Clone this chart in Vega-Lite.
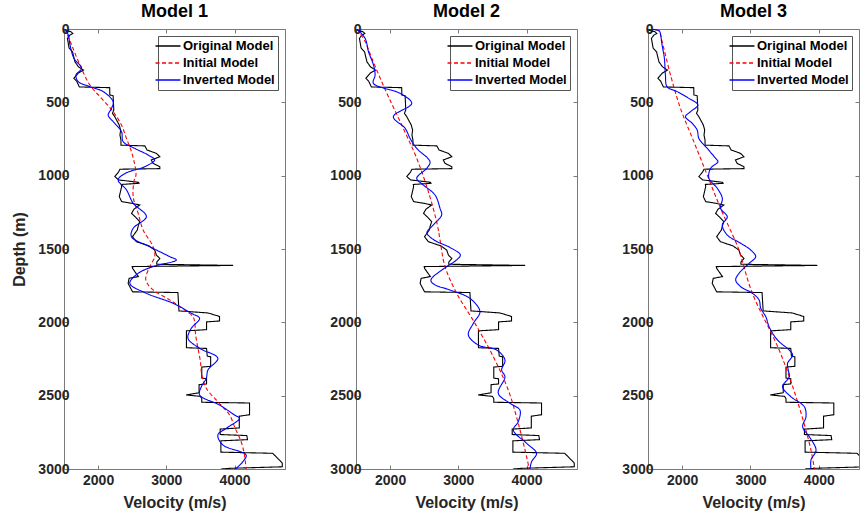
{
  "$schema": "https://vega.github.io/schema/vega-lite/v6.json",
  "padding": {"left": 11, "top": 2, "right": 0, "bottom": 0},
  "background": "white",
  "datasets": {
    "orig": [
      {"series":"Original Model","depth":0,"v":1510},{"series":"Original Model","depth":10,"v":1520},{"series":"Original Model","depth":18,"v":1600},{"series":"Original Model","depth":30,"v":1630},{"series":"Original Model","depth":40,"v":1590},{"series":"Original Model","depth":64,"v":1550},{"series":"Original Model","depth":130,"v":1575},{"series":"Original Model","depth":155,"v":1625},{"series":"Original Model","depth":223,"v":1660},{"series":"Original Model","depth":257,"v":1710},{"series":"Original Model","depth":280,"v":1785},{"series":"Original Model","depth":300,"v":1710},{"series":"Original Model","depth":336,"v":1645},{"series":"Original Model","depth":355,"v":1685},{"series":"Original Model","depth":395,"v":1725},{"series":"Original Model","depth":400,"v":2170},{"series":"Original Model","depth":450,"v":2172},{"series":"Original Model","depth":455,"v":2220},{"series":"Original Model","depth":552,"v":2230},{"series":"Original Model","depth":575,"v":2210},{"series":"Original Model","depth":598,"v":2245},{"series":"Original Model","depth":620,"v":2270},{"series":"Original Model","depth":655,"v":2310},{"series":"Original Model","depth":689,"v":2330},{"series":"Original Model","depth":723,"v":2320},{"series":"Original Model","depth":757,"v":2335},{"series":"Original Model","depth":792,"v":2335},{"series":"Original Model","depth":797,"v":2685},{"series":"Original Model","depth":825,"v":2718},{"series":"Original Model","depth":848,"v":2855},{"series":"Original Model","depth":871,"v":2905},{"series":"Original Model","depth":893,"v":2780},{"series":"Original Model","depth":916,"v":2805},{"series":"Original Model","depth":939,"v":2905},{"series":"Original Model","depth":952,"v":2905},{"series":"Original Model","depth":956,"v":2320},{"series":"Original Model","depth":975,"v":2300},{"series":"Original Model","depth":1006,"v":2245},{"series":"Original Model","depth":1029,"v":2300},{"series":"Original Model","depth":1045,"v":2590},{"series":"Original Model","depth":1052,"v":2600},{"series":"Original Model","depth":1060,"v":2340},{"series":"Original Model","depth":1075,"v":2345},{"series":"Original Model","depth":1143,"v":2310},{"series":"Original Model","depth":1177,"v":2345},{"series":"Original Model","depth":1188,"v":2490},{"series":"Original Model","depth":1200,"v":2610},{"series":"Original Model","depth":1229,"v":2525},{"series":"Original Model","depth":1257,"v":2490},{"series":"Original Model","depth":1279,"v":2540},{"series":"Original Model","depth":1313,"v":2610},{"series":"Original Model","depth":1340,"v":2590},{"series":"Original Model","depth":1370,"v":2575},{"series":"Original Model","depth":1416,"v":2505},{"series":"Original Model","depth":1450,"v":2560},{"series":"Original Model","depth":1479,"v":2745},{"series":"Original Model","depth":1507,"v":2830},{"series":"Original Model","depth":1541,"v":2855},{"series":"Original Model","depth":1565,"v":2905},{"series":"Original Model","depth":1590,"v":2860},{"series":"Original Model","depth":1604,"v":2860},{"series":"Original Model","depth":1612,"v":3980},{"series":"Original Model","depth":1620,"v":2500},{"series":"Original Model","depth":1632,"v":2505},{"series":"Original Model","depth":1688,"v":2590},{"series":"Original Model","depth":1700,"v":2455},{"series":"Original Model","depth":1734,"v":2440},{"series":"Original Model","depth":1792,"v":2505},{"series":"Original Model","depth":1797,"v":3170},{"series":"Original Model","depth":1916,"v":3185},{"series":"Original Model","depth":1922,"v":3185},{"series":"Original Model","depth":1936,"v":3610},{"series":"Original Model","depth":1960,"v":3780},{"series":"Original Model","depth":1991,"v":3780},{"series":"Original Model","depth":1997,"v":3590},{"series":"Original Model","depth":2050,"v":3590},{"series":"Original Model","depth":2058,"v":3295},{"series":"Original Model","depth":2173,"v":3295},{"series":"Original Model","depth":2178,"v":3590},{"series":"Original Model","depth":2230,"v":3600},{"series":"Original Model","depth":2235,"v":3650},{"series":"Original Model","depth":2300,"v":3650},{"series":"Original Model","depth":2305,"v":3520},{"series":"Original Model","depth":2380,"v":3520},{"series":"Original Model","depth":2385,"v":3590},{"series":"Original Model","depth":2420,"v":3590},{"series":"Original Model","depth":2425,"v":3480},{"series":"Original Model","depth":2480,"v":3480},{"series":"Original Model","depth":2495,"v":3290},{"series":"Original Model","depth":2505,"v":3500},{"series":"Original Model","depth":2520,"v":3520},{"series":"Original Model","depth":2545,"v":3520},{"series":"Original Model","depth":2550,"v":4220},{"series":"Original Model","depth":2630,"v":4220},{"series":"Original Model","depth":2640,"v":4070},{"series":"Original Model","depth":2720,"v":4070},{"series":"Original Model","depth":2728,"v":3790},{"series":"Original Model","depth":2765,"v":3790},{"series":"Original Model","depth":2772,"v":4180},{"series":"Original Model","depth":2800,"v":4190},{"series":"Original Model","depth":2808,"v":3800},{"series":"Original Model","depth":2885,"v":3800},{"series":"Original Model","depth":2893,"v":4560},{"series":"Original Model","depth":2940,"v":4660},{"series":"Original Model","depth":2960,"v":4700},{"series":"Original Model","depth":2985,"v":4700},{"series":"Original Model","depth":2995,"v":3950},{"series":"Original Model","depth":3000,"v":3800}
    ],
    "m1": [
      {"series":"Initial Model","depth":0,"v":1515},{"series":"Initial Model","depth":109,"v":1612},{"series":"Initial Model","depth":245,"v":1734},{"series":"Initial Model","depth":382,"v":1880},{"series":"Initial Model","depth":473,"v":2050},{"series":"Initial Model","depth":564,"v":2221},{"series":"Initial Model","depth":655,"v":2343},{"series":"Initial Model","depth":746,"v":2416},{"series":"Initial Model","depth":837,"v":2489},{"series":"Initial Model","depth":927,"v":2538},{"series":"Initial Model","depth":996,"v":2555},{"series":"Initial Model","depth":1029,"v":2530},{"series":"Initial Model","depth":1143,"v":2514},{"series":"Initial Model","depth":1257,"v":2587},{"series":"Initial Model","depth":1370,"v":2660},{"series":"Initial Model","depth":1484,"v":2806},{"series":"Initial Model","depth":1552,"v":2830},{"series":"Initial Model","depth":1620,"v":2757},{"series":"Initial Model","depth":1711,"v":2699},{"series":"Initial Model","depth":1779,"v":2806},{"series":"Initial Model","depth":1847,"v":3050},{"series":"Initial Model","depth":1916,"v":3269},{"series":"Initial Model","depth":1961,"v":3391},{"series":"Initial Model","depth":1995,"v":3415},{"series":"Initial Model","depth":2086,"v":3430},{"series":"Initial Model","depth":2177,"v":3464},{"series":"Initial Model","depth":2268,"v":3500},{"series":"Initial Model","depth":2359,"v":3520},{"series":"Initial Model","depth":2450,"v":3586},{"series":"Initial Model","depth":2541,"v":3756},{"series":"Initial Model","depth":2632,"v":3927},{"series":"Initial Model","depth":2723,"v":4010},{"series":"Initial Model","depth":2814,"v":4097},{"series":"Initial Model","depth":2905,"v":4146},{"series":"Initial Model","depth":3000,"v":4170},
      {"series":"Inverted Model","depth":0,"v":1515},{"series":"Inverted Model","depth":41,"v":1563},{"series":"Inverted Model","depth":109,"v":1588},{"series":"Inverted Model","depth":200,"v":1646},{"series":"Inverted Model","depth":268,"v":1758},{"series":"Inverted Model","depth":314,"v":1675},{"series":"Inverted Model","depth":359,"v":1710},{"series":"Inverted Model","depth":393,"v":1880},{"series":"Inverted Model","depth":427,"v":2075},{"series":"Inverted Model","depth":496,"v":2221},{"series":"Inverted Model","depth":541,"v":2197},{"series":"Inverted Model","depth":587,"v":2148},{"series":"Inverted Model","depth":632,"v":2221},{"series":"Inverted Model","depth":700,"v":2343},{"series":"Inverted Model","depth":768,"v":2367},{"series":"Inverted Model","depth":814,"v":2538},{"series":"Inverted Model","depth":859,"v":2733},{"series":"Inverted Model","depth":893,"v":2830},{"series":"Inverted Model","depth":939,"v":2684},{"series":"Inverted Model","depth":984,"v":2400},{"series":"Inverted Model","depth":1029,"v":2294},{"series":"Inverted Model","depth":1097,"v":2416},{"series":"Inverted Model","depth":1188,"v":2514},{"series":"Inverted Model","depth":1279,"v":2708},{"series":"Inverted Model","depth":1359,"v":2514},{"series":"Inverted Model","depth":1416,"v":2489},{"series":"Inverted Model","depth":1484,"v":2757},{"series":"Inverted Model","depth":1552,"v":3050},{"series":"Inverted Model","depth":1575,"v":3147},{"series":"Inverted Model","depth":1620,"v":2806},{"series":"Inverted Model","depth":1666,"v":2587},{"series":"Inverted Model","depth":1734,"v":2465},{"series":"Inverted Model","depth":1802,"v":2708},{"series":"Inverted Model","depth":1870,"v":3098},{"series":"Inverted Model","depth":1938,"v":3366},{"series":"Inverted Model","depth":1973,"v":3488},{"series":"Inverted Model","depth":2041,"v":3366},{"series":"Inverted Model","depth":2109,"v":3318},{"series":"Inverted Model","depth":2177,"v":3488},{"series":"Inverted Model","depth":2245,"v":3756},{"series":"Inverted Model","depth":2325,"v":3610},{"series":"Inverted Model","depth":2382,"v":3586},{"series":"Inverted Model","depth":2439,"v":3513},{"series":"Inverted Model","depth":2495,"v":3488},{"series":"Inverted Model","depth":2564,"v":3781},{"series":"Inverted Model","depth":2632,"v":4000},{"series":"Inverted Model","depth":2655,"v":4073},{"series":"Inverted Model","depth":2723,"v":3878},{"series":"Inverted Model","depth":2768,"v":3756},{"series":"Inverted Model","depth":2836,"v":3829},{"series":"Inverted Model","depth":2905,"v":4170},{"series":"Inverted Model","depth":2950,"v":4122},{"series":"Inverted Model","depth":3000,"v":4014}
    ],
    "m2": [
      {"series":"Initial Model","depth":0,"v":1512},{"series":"Initial Model","depth":86,"v":1634},{"series":"Initial Model","depth":200,"v":1732},{"series":"Initial Model","depth":427,"v":1941},{"series":"Initial Model","depth":655,"v":2171},{"series":"Initial Model","depth":882,"v":2390},{"series":"Initial Model","depth":1109,"v":2561},{"series":"Initial Model","depth":1336,"v":2693},{"series":"Initial Model","depth":1439,"v":2732},{"series":"Initial Model","depth":1620,"v":2805},{"series":"Initial Model","depth":1802,"v":2976},{"series":"Initial Model","depth":2007,"v":3244},{"series":"Initial Model","depth":2234,"v":3513},{"series":"Initial Model","depth":2461,"v":3732},{"series":"Initial Model","depth":2689,"v":3879},{"series":"Initial Model","depth":2916,"v":4001},{"series":"Initial Model","depth":3000,"v":4040},
      {"series":"Inverted Model","depth":0,"v":1512},{"series":"Inverted Model","depth":64,"v":1634},{"series":"Inverted Model","depth":155,"v":1683},{"series":"Inverted Model","depth":245,"v":1756},{"series":"Inverted Model","depth":314,"v":1780},{"series":"Inverted Model","depth":370,"v":1755},{"series":"Inverted Model","depth":439,"v":2146},{"series":"Inverted Model","depth":507,"v":2317},{"series":"Inverted Model","depth":598,"v":2048},{"series":"Inverted Model","depth":677,"v":2220},{"series":"Inverted Model","depth":746,"v":2293},{"series":"Inverted Model","depth":814,"v":2390},{"series":"Inverted Model","depth":905,"v":2585},{"series":"Inverted Model","depth":950,"v":2537},{"series":"Inverted Model","depth":1018,"v":2390},{"series":"Inverted Model","depth":1064,"v":2488},{"series":"Inverted Model","depth":1132,"v":2659},{"series":"Inverted Model","depth":1223,"v":2732},{"series":"Inverted Model","depth":1268,"v":2756},{"series":"Inverted Model","depth":1336,"v":2634},{"series":"Inverted Model","depth":1390,"v":2540},{"series":"Inverted Model","depth":1440,"v":2650},{"series":"Inverted Model","depth":1490,"v":2880},{"series":"Inverted Model","depth":1541,"v":3030},{"series":"Inverted Model","depth":1580,"v":2960},{"series":"Inverted Model","depth":1620,"v":2830},{"series":"Inverted Model","depth":1700,"v":2610},{"series":"Inverted Model","depth":1720,"v":2600},{"series":"Inverted Model","depth":1745,"v":2660},{"series":"Inverted Model","depth":1780,"v":2880},{"series":"Inverted Model","depth":1837,"v":3170},{"series":"Inverted Model","depth":1927,"v":3317},{"series":"Inverted Model","depth":2007,"v":3220},{"series":"Inverted Model","depth":2086,"v":3147},{"series":"Inverted Model","depth":2155,"v":3293},{"series":"Inverted Model","depth":2189,"v":3562},{"series":"Inverted Model","depth":2257,"v":3684},{"series":"Inverted Model","depth":2325,"v":3635},{"series":"Inverted Model","depth":2371,"v":3684},{"series":"Inverted Model","depth":2484,"v":3586},{"series":"Inverted Model","depth":2552,"v":3757},{"series":"Inverted Model","depth":2598,"v":3903},{"series":"Inverted Model","depth":2677,"v":3879},{"series":"Inverted Model","depth":2734,"v":3806},{"series":"Inverted Model","depth":2825,"v":4001},{"series":"Inverted Model","depth":2893,"v":4147},{"series":"Inverted Model","depth":2950,"v":4074},{"series":"Inverted Model","depth":3000,"v":4050}
    ],
    "m3": [
      {"series":"Initial Model","depth":0,"v":1510},{"series":"Initial Model","depth":15,"v":1660},{"series":"Initial Model","depth":75,"v":1700},{"series":"Initial Model","depth":314,"v":1830},{"series":"Initial Model","depth":541,"v":1975},{"series":"Initial Model","depth":768,"v":2171},{"series":"Initial Model","depth":996,"v":2367},{"series":"Initial Model","depth":1223,"v":2563},{"series":"Initial Model","depth":1450,"v":2783},{"series":"Initial Model","depth":1507,"v":2832},{"series":"Initial Model","depth":1802,"v":3028},{"series":"Initial Model","depth":2189,"v":3420},{"series":"Initial Model","depth":2541,"v":3690},{"series":"Initial Model","depth":2871,"v":3886},{"series":"Initial Model","depth":3000,"v":3935},
      {"series":"Inverted Model","depth":0,"v":1500},{"series":"Inverted Model","depth":10,"v":1657},{"series":"Inverted Model","depth":20,"v":1675},{"series":"Inverted Model","depth":109,"v":1706},{"series":"Inverted Model","depth":200,"v":1740},{"series":"Inverted Model","depth":314,"v":1755},{"series":"Inverted Model","depth":393,"v":1779},{"series":"Inverted Model","depth":427,"v":1926},{"series":"Inverted Model","depth":473,"v":2098},{"series":"Inverted Model","depth":518,"v":2230},{"series":"Inverted Model","depth":564,"v":2122},{"series":"Inverted Model","depth":598,"v":2049},{"series":"Inverted Model","depth":643,"v":2147},{"series":"Inverted Model","depth":689,"v":2220},{"series":"Inverted Model","depth":746,"v":2245},{"series":"Inverted Model","depth":814,"v":2367},{"series":"Inverted Model","depth":882,"v":2490},{"series":"Inverted Model","depth":905,"v":2524},{"series":"Inverted Model","depth":950,"v":2416},{"series":"Inverted Model","depth":1018,"v":2392},{"series":"Inverted Model","depth":1086,"v":2514},{"series":"Inverted Model","depth":1155,"v":2588},{"series":"Inverted Model","depth":1223,"v":2563},{"series":"Inverted Model","depth":1280,"v":2661},{"series":"Inverted Model","depth":1336,"v":2588},{"series":"Inverted Model","depth":1405,"v":2661},{"series":"Inverted Model","depth":1461,"v":2857},{"series":"Inverted Model","depth":1507,"v":3004},{"series":"Inverted Model","depth":1552,"v":3077},{"series":"Inverted Model","depth":1598,"v":2980},{"series":"Inverted Model","depth":1666,"v":2832},{"series":"Inverted Model","depth":1712,"v":2784},{"series":"Inverted Model","depth":1757,"v":2857},{"series":"Inverted Model","depth":1802,"v":3029},{"series":"Inverted Model","depth":1848,"v":3127},{"series":"Inverted Model","depth":1905,"v":3151},{"series":"Inverted Model","depth":1962,"v":3225},{"series":"Inverted Model","depth":2030,"v":3273},{"series":"Inverted Model","depth":2121,"v":3396},{"series":"Inverted Model","depth":2189,"v":3568},{"series":"Inverted Model","depth":2223,"v":3617},{"series":"Inverted Model","depth":2280,"v":3543},{"series":"Inverted Model","depth":2325,"v":3553},{"series":"Inverted Model","depth":2371,"v":3568},{"series":"Inverted Model","depth":2439,"v":3470},{"series":"Inverted Model","depth":2507,"v":3592},{"series":"Inverted Model","depth":2575,"v":3788},{"series":"Inverted Model","depth":2643,"v":3813},{"series":"Inverted Model","depth":2712,"v":3764},{"series":"Inverted Model","depth":2780,"v":3862},{"series":"Inverted Model","depth":2871,"v":3960},{"series":"Inverted Model","depth":2939,"v":3886},{"series":"Inverted Model","depth":3000,"v":3886}
    ]
  },
  "hconcat": [
    {
      "title": "Model 1",
      "width": 221, "height": 440,
      "layer": [
        {"data": {"name": "orig"}, "mark": {"type": "line", "clip": true, "strokeWidth": 1.1},
         "encoding": {
           "x": {"field": "v", "type": "quantitative", "scale": {"domain": [1500, 4740], "nice": false, "zero": false}, "axis": {"orient": "bottom", "values": [2000, 3000, 4000], "format": "d", "title": "Velocity (m/s)"}},
           "y": {"field": "depth", "type": "quantitative", "scale": {"domain": [0, 3000], "reverse": true, "nice": false, "zero": false}, "axis": {"orient": "left", "values": [0, 500, 1000, 1500, 2000, 2500, 3000], "format": "d", "title": "Depth (m)"}},
           "order": {"field": "depth", "type": "quantitative"},
           "color": {"field": "series", "type": "nominal", "scale": {"domain": ["Original Model", "Initial Model", "Inverted Model"], "range": ["#000000", "#ff0000", "#0000ff"]}, "legend": {"title": null}},
           "strokeDash": {"field": "series", "type": "nominal", "scale": {"domain": ["Original Model", "Initial Model", "Inverted Model"], "range": [[1, 0], [4, 2.5], [1, 0]]}, "legend": {"title": null}}
         }},
        {"data": {"name": "m1"}, "mark": {"type": "line", "clip": true, "strokeWidth": 1.1, "interpolate": "catmull-rom"},
         "encoding": {
           "x": {"field": "v", "type": "quantitative", "scale": {"domain": [1500, 4740], "nice": false, "zero": false}, "axis": {"orient": "top", "values": [2000, 3000, 4000], "labels": false, "title": null}},
           "y": {"field": "depth", "type": "quantitative", "scale": {"domain": [0, 3000], "reverse": true, "nice": false, "zero": false}, "axis": {"orient": "right", "values": [0, 500, 1000, 1500, 2000, 2500, 3000], "labels": false, "title": null}},
           "order": {"field": "depth", "type": "quantitative"},
           "color": {"field": "series", "type": "nominal", "scale": {"domain": ["Original Model", "Initial Model", "Inverted Model"], "range": ["#000000", "#ff0000", "#0000ff"]}, "legend": {"title": null}},
           "strokeDash": {"field": "series", "type": "nominal", "scale": {"domain": ["Original Model", "Initial Model", "Inverted Model"], "range": [[1, 0], [4, 2.5], [1, 0]]}, "legend": {"title": null}}
         }}
      ],
      "resolve": {"axis": {"x": "independent", "y": "independent"}}
    },
    {
      "title": "Model 2",
      "width": 221, "height": 440,
      "layer": [
        {"data": {"name": "orig"}, "mark": {"type": "line", "clip": true, "strokeWidth": 1.1},
         "encoding": {
           "x": {"field": "v", "type": "quantitative", "scale": {"domain": [1500, 4740], "nice": false, "zero": false}, "axis": {"orient": "bottom", "values": [2000, 3000, 4000], "format": "d", "title": "Velocity (m/s)"}},
           "y": {"field": "depth", "type": "quantitative", "scale": {"domain": [0, 3000], "reverse": true, "nice": false, "zero": false}, "axis": {"orient": "left", "values": [0, 500, 1000, 1500, 2000, 2500, 3000], "format": "d", "title": null}},
           "order": {"field": "depth", "type": "quantitative"},
           "color": {"field": "series", "type": "nominal", "scale": {"domain": ["Original Model", "Initial Model", "Inverted Model"], "range": ["#000000", "#ff0000", "#0000ff"]}, "legend": {"title": null}},
           "strokeDash": {"field": "series", "type": "nominal", "scale": {"domain": ["Original Model", "Initial Model", "Inverted Model"], "range": [[1, 0], [4, 2.5], [1, 0]]}, "legend": {"title": null}}
         }},
        {"data": {"name": "m2"}, "mark": {"type": "line", "clip": true, "strokeWidth": 1.1, "interpolate": "catmull-rom"},
         "encoding": {
           "x": {"field": "v", "type": "quantitative", "scale": {"domain": [1500, 4740], "nice": false, "zero": false}, "axis": {"orient": "top", "values": [2000, 3000, 4000], "labels": false, "title": null}},
           "y": {"field": "depth", "type": "quantitative", "scale": {"domain": [0, 3000], "reverse": true, "nice": false, "zero": false}, "axis": {"orient": "right", "values": [0, 500, 1000, 1500, 2000, 2500, 3000], "labels": false, "title": null}},
           "order": {"field": "depth", "type": "quantitative"},
           "color": {"field": "series", "type": "nominal", "scale": {"domain": ["Original Model", "Initial Model", "Inverted Model"], "range": ["#000000", "#ff0000", "#0000ff"]}, "legend": {"title": null}},
           "strokeDash": {"field": "series", "type": "nominal", "scale": {"domain": ["Original Model", "Initial Model", "Inverted Model"], "range": [[1, 0], [4, 2.5], [1, 0]]}, "legend": {"title": null}}
         }}
      ],
      "resolve": {"axis": {"x": "independent", "y": "independent"}}
    },
    {
      "title": "Model 3",
      "width": 211, "height": 440,
      "layer": [
        {"data": {"name": "orig"}, "mark": {"type": "line", "clip": true, "strokeWidth": 1.1},
         "encoding": {
           "x": {"field": "v", "type": "quantitative", "scale": {"domain": [1500, 4589], "nice": false, "zero": false}, "axis": {"orient": "bottom", "values": [2000, 3000, 4000], "format": "d", "title": "Velocity (m/s)"}},
           "y": {"field": "depth", "type": "quantitative", "scale": {"domain": [0, 3000], "reverse": true, "nice": false, "zero": false}, "axis": {"orient": "left", "values": [0, 500, 1000, 1500, 2000, 2500, 3000], "format": "d", "title": null}},
           "order": {"field": "depth", "type": "quantitative"},
           "color": {"field": "series", "type": "nominal", "scale": {"domain": ["Original Model", "Initial Model", "Inverted Model"], "range": ["#000000", "#ff0000", "#0000ff"]}, "legend": {"title": null}},
           "strokeDash": {"field": "series", "type": "nominal", "scale": {"domain": ["Original Model", "Initial Model", "Inverted Model"], "range": [[1, 0], [4, 2.5], [1, 0]]}, "legend": {"title": null}}
         }},
        {"data": {"name": "m3"}, "mark": {"type": "line", "clip": true, "strokeWidth": 1.1, "interpolate": "catmull-rom"},
         "encoding": {
           "x": {"field": "v", "type": "quantitative", "scale": {"domain": [1500, 4589], "nice": false, "zero": false}, "axis": {"orient": "top", "values": [2000, 3000, 4000], "labels": false, "title": null}},
           "y": {"field": "depth", "type": "quantitative", "scale": {"domain": [0, 3000], "reverse": true, "nice": false, "zero": false}, "axis": {"orient": "right", "values": [0, 500, 1000, 1500, 2000, 2500, 3000], "labels": false, "title": null}},
           "order": {"field": "depth", "type": "quantitative"},
           "color": {"field": "series", "type": "nominal", "scale": {"domain": ["Original Model", "Initial Model", "Inverted Model"], "range": ["#000000", "#ff0000", "#0000ff"]}, "legend": {"title": null}},
           "strokeDash": {"field": "series", "type": "nominal", "scale": {"domain": ["Original Model", "Initial Model", "Inverted Model"], "range": [[1, 0], [4, 2.5], [1, 0]]}, "legend": {"title": null}}
         }}
      ],
      "resolve": {"axis": {"x": "independent", "y": "independent"}}
    }
  ],
  "spacing": 71,
  "bounds": "flush",
  "resolve": {"scale": {"color": "independent", "strokeDash": "independent", "x": "independent", "y": "independent"}, "legend": {"color": "independent", "strokeDash": "independent"}},
  "config": {
    "view": {"stroke": "#7a7a7a", "strokeWidth": 1},
    "font": "Liberation Sans",
    "axis": {"labelFont": "Liberation Sans", "labelFontWeight": "bold", "labelFontSize": 14, "labelColor": "#262626", "titleFont": "Liberation Sans", "titleFontWeight": "bold", "titleFontSize": 16, "titleColor": "#262626", "grid": false, "domain": false, "tickColor": "#7a7a7a", "tickSize": -4},
    "axisX": {"labelPadding": 8, "titlePadding": 7},
    "axisY": {"labelPadding": -1, "titlePadding": 10},
    "title": {"font": "Liberation Sans", "fontSize": 18, "fontWeight": "bold", "color": "#000000", "offset": 1},
    "legend": {"orient": "top-right", "offset": 7, "strokeColor": "#555555", "fillColor": "white", "padding": 3, "symbolType": "M-2,0H2", "symbolSize": 156, "symbolStrokeWidth": 1.3, "labelFont": "Liberation Sans", "labelFontSize": 13, "labelFontWeight": "bold", "labelColor": "#000000", "rowPadding": 3, "labelOffset": 8, "cornerRadius": 0}
  }
}
